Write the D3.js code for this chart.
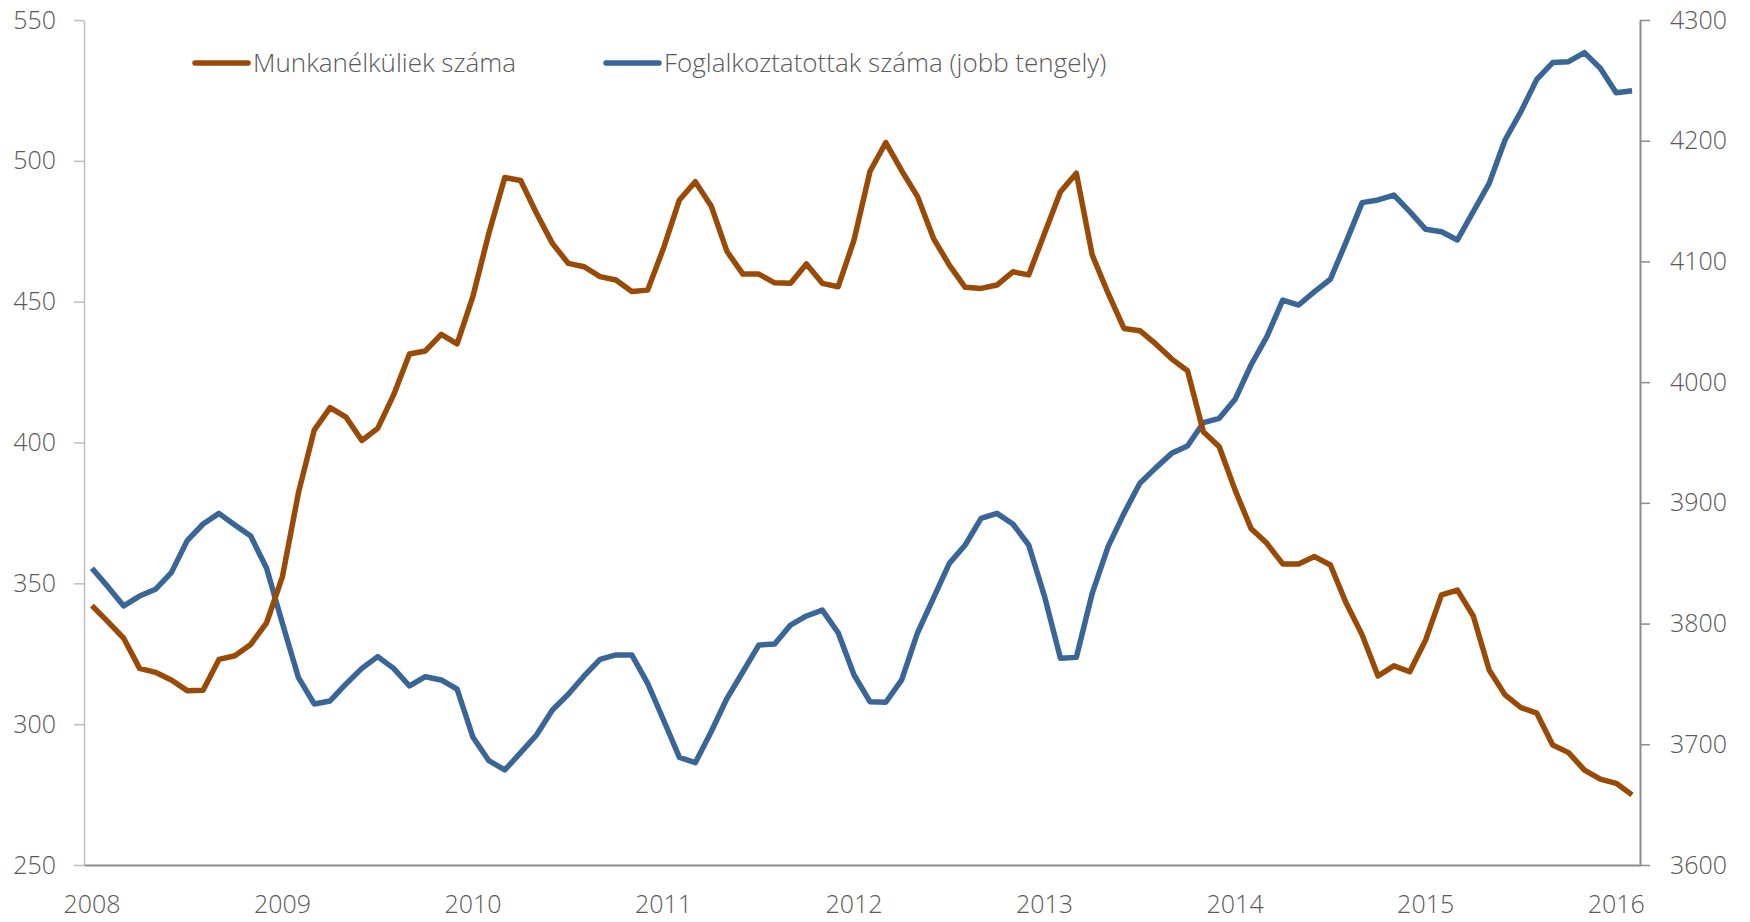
<!DOCTYPE html>
<html>
<head>
<meta charset="utf-8">
<script src="https://cdn.jsdelivr.net/npm/d3@7"></script>
<style>
  html, body { margin: 0; background: #fff; }
  svg { display: block; font-family: "Open Sans", "Noto Sans", sans-serif; font-weight: 300; }
  .tick text, .legend text { fill: #595959; font-size: 25px; }
  .legend text { font-size: 26px; }
</style>
</head>
<body>
<svg id="chart" width="1750" height="922"></svg>
<script>
const yearLabels = ['2008', '2009', '2010', '2011', '2012', '2013', '2014', '2015', '2016'];
const leftTicks = [250, 300, 350, 400, 450, 500, 550];
const rightTicks = [3600, 3700, 3800, 3900, 4000, 4100, 4200, 4300];
const seriesNames = ['Munkanélküliek száma', 'Foglalkoztatottak száma (jobb tengely)'];

// monthly, 2008 Jan .. 2016 Feb (thousand persons)
const unemployed = [
  342.1, 336.4, 330.5, 319.8, 318.4, 315.7, 311.9, 312.0, 323.0, 324.3, 328.3, 336.0,
  352.4, 382.0, 404.4, 412.4, 409.0, 400.7, 405.0, 416.9, 431.4, 432.5, 438.4, 435.0,
  452.0, 474.3, 494.1, 493.0, 481.4, 470.7, 463.6, 462.4, 458.9, 457.7, 453.6, 454.1,
  469.0, 486.1, 492.6, 484.0, 467.8, 459.8, 459.8, 456.7, 456.5, 463.4, 456.5, 455.3,
  471.9, 496.2, 506.5, 496.5, 487.3, 472.5, 463.0, 455.1, 454.7, 455.9, 460.6, 459.5,
  474.3, 489.0, 495.6, 466.6, 453.0, 440.5, 439.7, 435.0, 429.7, 425.5, 403.8, 398.5,
  383.1, 369.5, 364.2, 356.9, 356.9, 359.5, 356.5, 342.9, 331.7, 317.1, 320.7, 318.6,
  329.9, 345.9, 347.6, 338.4, 319.2, 310.4, 305.9, 303.9, 292.6, 289.9, 283.7, 280.5,
  279.0, 274.9
];
const employed = [
  3845.8, 3830.6, 3814.6, 3822.8, 3828.4, 3842.2, 3868.7, 3882.5, 3891.3, 3881.7, 3872.5, 3845.8,
  3800.0, 3755.5, 3733.4, 3735.9, 3750.0, 3762.9, 3772.6, 3762.9, 3748.3, 3756.0, 3753.3, 3745.6,
  3705.8, 3686.4, 3678.7, 3693.0, 3707.7, 3728.4, 3741.4, 3756.6, 3770.4, 3774.0, 3774.0, 3750.5,
  3720.1, 3689.2, 3684.8, 3710.4, 3738.1, 3760.1, 3782.2, 3783.0, 3798.8, 3806.3, 3811.2, 3792.4,
  3757.4, 3735.3, 3734.8, 3753.3, 3792.4, 3821.0, 3849.9, 3865.1, 3887.2, 3891.3, 3882.5, 3865.1,
  3822.3, 3771.2, 3772.0, 3825.1, 3863.7, 3891.3, 3916.2, 3929.0, 3941.0, 3947.1, 3966.4, 3970.0,
  3985.8, 4014.2, 4037.7, 4068.0, 4063.9, 4075.0, 4085.2, 4116.4, 4148.7, 4150.9, 4155.0, 4141.2,
  4126.6, 4124.6, 4117.8, 4141.2, 4164.7, 4200.6, 4224.1, 4250.8, 4264.7, 4265.5, 4273.0, 4260.0,
  4239.8, 4241.4
];

const colors = ['#9a4a07', '#3a6597'];

function lineChart(svg) {
  const width = +svg.attr('width');
  const height = +svg.attr('height');
  const margin = {top: 20, right: 110, bottom: 57, left: 84};

  const months = d3.timeMonth.range(new Date(2008, 0, 1), new Date(2016, 2, 1));
  const januaries = months.filter(d => d.getMonth() === 0);

  const x = d3.scaleBand()
    .domain(months)
    .range([margin.left, width - margin.right]);
  const cx = d => x(d) + x.bandwidth() / 2;

  const yLeft = d3.scaleLinear()
    .domain(d3.extent(leftTicks))
    .range([height - margin.bottom, margin.top]);
  const yRight = d3.scaleLinear()
    .domain(d3.extent(rightTicks))
    .range([height - margin.bottom, margin.top]);

  svg.append('g')
      .attr('transform', `translate(${margin.left},0)`)
      .call(d3.axisLeft(yLeft).tickValues(leftTicks).tickSize(10).tickSizeOuter(0).tickPadding(18))
      .call(g => g.select('.domain').attr('stroke', '#bfbfbf').attr('stroke-width', 1.5))
      .call(g => g.selectAll('.tick line').attr('stroke', '#bfbfbf').attr('stroke-width', 1.5));

  svg.append('g')
      .attr('transform', `translate(${width - margin.right},0)`)
      .call(d3.axisRight(yRight)
        .tickValues(rightTicks)
        .tickFormat(d3.format('d'))
        .tickSize(10)
        .tickSizeOuter(0)
        .tickPadding(20))
      .call(g => g.select('.domain').attr('stroke', '#8c8c8c').attr('stroke-width', 2))
      .call(g => g.selectAll('.tick line').attr('stroke', '#8c8c8c').attr('stroke-width', 1.5));

  svg.append('g')
      .attr('transform', `translate(0,${height - margin.bottom})`)
      .call(d3.axisBottom(x)
        .tickValues(januaries)
        .tickFormat((d, i) => yearLabels[i])
        .tickSize(0)
        .tickSizeOuter(0)
        .tickPadding(30))
      .call(g => g.select('.domain').attr('stroke', '#8c8c8c').attr('stroke-width', 2));

  // let the stylesheet pick the font instead of d3's axis defaults
  svg.selectAll('g').attr('font-family', null).attr('font-size', null);

  const lineLeft = d3.line().x((d, i) => cx(months[i])).y(d => yLeft(d));
  const lineRight = d3.line().x((d, i) => cx(months[i])).y(d => yRight(d));

  svg.append('path')
      .datum(employed)
      .attr('fill', 'none')
      .attr('stroke', colors[1])
      .attr('stroke-width', 5.5)
      .attr('stroke-linejoin', 'round')
      .attr('d', lineRight);

  svg.append('path')
      .datum(unemployed)
      .attr('fill', 'none')
      .attr('stroke', colors[0])
      .attr('stroke-width', 5.5)
      .attr('stroke-linejoin', 'round')
      .attr('d', lineLeft);

  // legend
  const legendX = [195, 606];
  const legend = svg.append('g')
      .attr('class', 'legend')
      .attr('transform', 'translate(0,63)')
    .selectAll('g')
    .data(seriesNames)
    .join('g')
      .attr('transform', (d, i) => `translate(${legendX[i]},0)`);
  legend.append('line')
      .attr('x1', 0).attr('x2', 53)
      .attr('stroke', (d, i) => colors[i])
      .attr('stroke-width', 5.5)
      .attr('stroke-linecap', 'round');
  legend.append('text')
      .attr('x', 58)
      .attr('dy', '0.35em')
      .text(d => d);
}

lineChart(d3.select('#chart'));
</script>
</body>
</html>
